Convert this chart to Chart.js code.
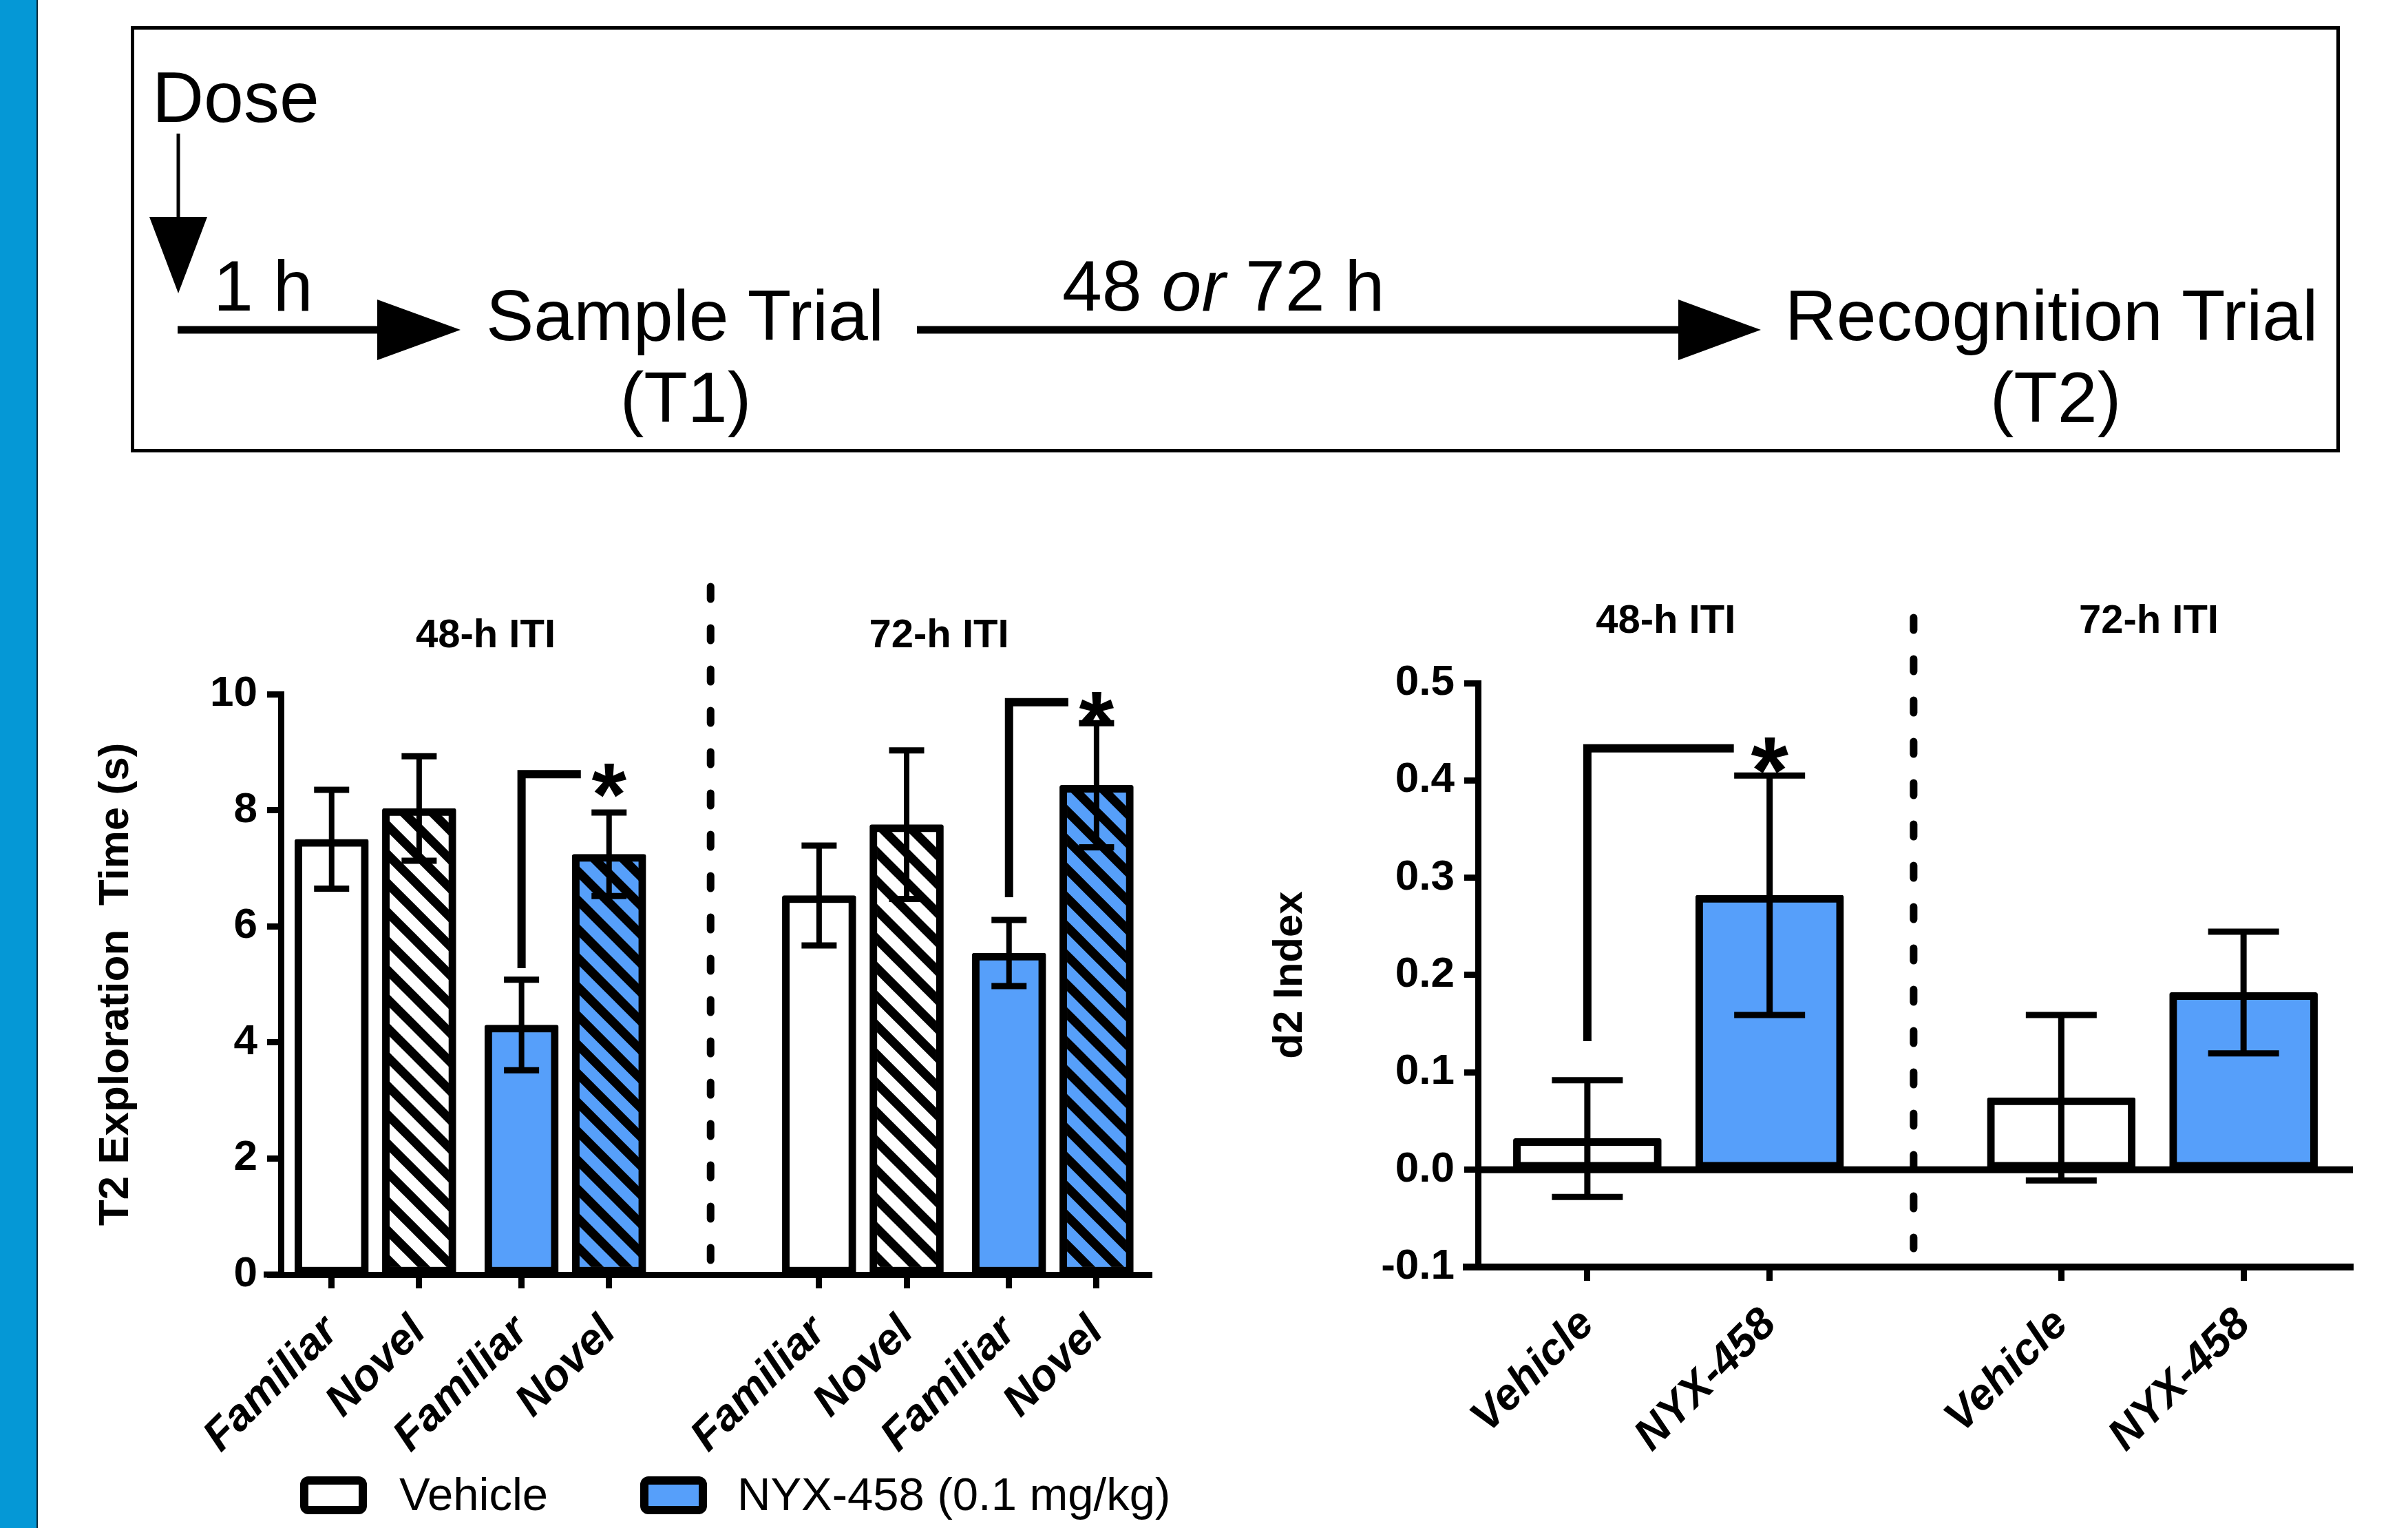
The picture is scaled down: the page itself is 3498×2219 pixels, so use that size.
<!DOCTYPE html>
<html>
<head>
<meta charset="utf-8">
<script src="https://cdn.jsdelivr.net/npm/chart.js@4.4.1/dist/chart.umd.min.js"></script>
<style>
  html, body { margin: 0; padding: 0; background: #fff; }
  body { width: 3498px; height: 2219px; position: relative; overflow: hidden; font-family: 'Liberation Sans', Arial, sans-serif; }
  #strip { position: absolute; left: 0; top: 0; width: 53px; height: 2219px; background: #0598d6; border-right: 2px solid #0b2a3a; }
  #overlay { position: absolute; left: 0; top: 0; }
  .panel { position: absolute; }
</style>
</head>
<body>
<div id="strip"></div>

<svg id="overlay" width="3498" height="2219" xmlns="http://www.w3.org/2000/svg">
  <!-- protocol box -->
  <rect x="192.5" y="40.5" width="3204" height="614" fill="none" stroke="#000" stroke-width="5"/>
  <g fill="#000" stroke="none">
    <polygon points="217,315 301,315 259,426"/>
    <polygon points="548,435 548,523 669,479"/>
    <polygon points="2438,435 2438,523 2558,479"/>
  </g>
  <g stroke="#000">
    <line x1="259" y1="194" x2="259" y2="318" stroke-width="5"/>
    <line x1="258" y1="479" x2="552" y2="479" stroke-width="11"/>
    <line x1="1332" y1="479" x2="2442" y2="479" stroke-width="11"/>
  </g>
  <g font-family="Liberation Sans, Arial, sans-serif" font-size="104" fill="#000">
    <text x="221" y="177">Dose</text>
    <text x="310" y="451">1 h</text>
    <text x="995" y="494" text-anchor="middle">Sample Trial</text>
    <text x="996" y="613" text-anchor="middle">(T1)</text>
    <text x="1543" y="451">48 <tspan font-style="italic">or</tspan> 72 h</text>
    <text x="2980" y="494" text-anchor="middle">Recognition Trial</text>
    <text x="2986" y="613" text-anchor="middle">(T2)</text>
  </g>
  <!-- legend -->
  <rect x="442" y="2150" width="85" height="43" rx="6" fill="#fff" stroke="#000" stroke-width="12"/>
  <rect x="936" y="2150" width="85" height="43" rx="6" fill="#569ffa" stroke="#000" stroke-width="12"/>
  <g font-family="Liberation Sans, Arial, sans-serif" font-size="67" fill="#000">
    <text x="580" y="2193">Vehicle</text>
    <text x="1071" y="2193">NYX-458 (0.1 mg/kg)</text>
  </g>
</svg>

<div class="panel" style="left:60px;top:780px;"><canvas id="explorationChart" width="1700" height="1439"></canvas></div>
<div class="panel" style="left:1760px;top:780px;"><canvas id="d2Chart" width="1738" height="1439"></canvas></div>

<script>
// ---------- data ----------
const groupNames = ['48-h ITI', '72-h ITI'];

// T2 exploration time (s), 8 bars
const explorationLabels = ['Familiar', 'Novel', 'Familiar', 'Novel', 'Familiar', 'Novel', 'Familiar', 'Novel'];
const explorationTreatment = ['Vehicle', 'Vehicle', 'NYX-458', 'NYX-458', 'Vehicle', 'Vehicle', 'NYX-458', 'NYX-458'];
const explorationMean = [7.5, 8.03, 4.3, 7.24, 6.53, 7.75, 5.54, 8.43];
const explorationSem = [0.85, 0.9, 0.78, 0.72, 0.86, 1.28, 0.57, 1.07];
const explorationTicks = [0, 2, 4, 6, 8, 10];

// d2 index, 4 bars
const d2Labels = ['Vehicle', 'NYX-458', 'Vehicle', 'NYX-458'];
const d2Treatment = ['Vehicle', 'NYX-458', 'Vehicle', 'NYX-458'];
const d2Mean = [0.032, 0.282, 0.074, 0.182];
const d2Sem = [0.06, 0.123, 0.085, 0.0625];
const d2Ticks = [-0.1, 0.0, 0.1, 0.2, 0.3, 0.4, 0.5];

// significance brackets (bar index from -> bar index with star), heights in data units
const explorationSigFrom = [2, 6];
const explorationSigTo = [3, 7];
const explorationSigLow = [5.28, 6.5];
const explorationSigHigh = [8.62, 9.86];
const d2SigFrom = [0];
const d2SigTo = [1];
const d2SigLow = [0.132];
const d2SigHigh = [0.433];

// ---------- layout (x slot positions on a linear axis) ----------
const explorationSlots = [0, 1, 2.17, 3.17, 5.57, 6.57, 7.74, 8.74];
const d2Slots = [0, 1, 2.6, 3.6];

const FONT = "'Liberation Sans', Arial, sans-serif";
const BLUE = '#569ffa';

Chart.defaults.font.family = FONT;
Chart.defaults.color = '#000';

function makeHatch(fill) {
    const tile = document.createElement('canvas');
    tile.width = tile.height = 42;
    const c = tile.getContext('2d');
    c.fillStyle = fill;
    c.fillRect(0, 0, 42, 42);
    c.strokeStyle = '#000';
    c.lineWidth = 13;
    for (let k = -1; k <= 1; k++) {
        c.beginPath();
        c.moveTo(-10, -10 + k * 42);
        c.lineTo(52, 52 + k * 42);
        c.stroke();
    }
    return c.createPattern(tile, 'repeat');
}

const hatchWhite = makeHatch('#fff');
const hatchBlue = makeHatch(BLUE);

// draws error bars, brackets, separators and group titles
function figurePlugin(cfg) {
    return {
        id: 'figure_' + cfg.name,
        beforeDatasetsDraw(chart) {
            const {ctx, chartArea, scales: {x, y}} = chart;
            ctx.save();
            // dashed separator between the two ITI groups
            const sx = x.getPixelForValue(cfg.sepX);
            ctx.strokeStyle = '#000';
            ctx.lineWidth = 11;
            ctx.lineCap = 'round';
            ctx.setLineDash([18, 42]);
            ctx.beginPath();
            ctx.moveTo(sx, chartArea.top - cfg.sepAbove);
            ctx.lineTo(sx, chartArea.bottom - cfg.sepBelow);
            ctx.stroke();
            ctx.setLineDash([]);
            ctx.lineCap = 'butt';
            // zero line
            if (cfg.zeroLine) {
                const zy = y.getPixelForValue(0);
                ctx.lineWidth = 10;
                ctx.beginPath();
                ctx.moveTo(chartArea.left, zy);
                ctx.lineTo(chartArea.right, zy);
                ctx.stroke();
            }
            // axis stub left of y axis
            ctx.lineWidth = cfg.axisWidth;
            ctx.beginPath();
            ctx.moveTo(chartArea.left - cfg.stub, chartArea.bottom);
            ctx.lineTo(chartArea.left, chartArea.bottom);
            ctx.stroke();
            // group titles
            ctx.fillStyle = '#000';
            ctx.font = 'bold 58px ' + FONT;
            ctx.textAlign = 'center';
            ctx.textBaseline = 'middle';
            groupNames.forEach((t, i) => {
                ctx.fillText(t, x.getPixelForValue(cfg.titleX[i]), chartArea.top - cfg.titleAbove);
            });
            ctx.restore();
        },
        afterDatasetsDraw(chart) {
            const {ctx, scales: {x, y}} = chart;
            const bars = chart.getDatasetMeta(0).data;
            ctx.save();
            ctx.strokeStyle = '#000';
            ctx.fillStyle = '#000';
            // error bars (mean +/- SEM)
            bars.forEach((bar, i) => {
                const top = y.getPixelForValue(cfg.mean[i] + cfg.sem[i]);
                const bot = y.getPixelForValue(cfg.mean[i] - cfg.sem[i]);
                ctx.lineWidth = cfg.errWidth;
                ctx.beginPath();
                ctx.moveTo(bar.x, top);
                ctx.lineTo(bar.x, bot);
                ctx.stroke();
                ctx.lineWidth = 9;
                [top, bot].forEach(py => {
                    ctx.beginPath();
                    ctx.moveTo(bar.x - cfg.capWidth / 2, py);
                    ctx.lineTo(bar.x + cfg.capWidth / 2, py);
                    ctx.stroke();
                });
            });
            // significance brackets
            ctx.lineWidth = 12;
            ctx.lineJoin = 'miter';
            cfg.sigFrom.forEach((from, k) => {
                const x0 = bars[from].x;
                const starX = bars[cfg.sigTo[k]].x;
                const yLow = y.getPixelForValue(cfg.sigLow[k]);
                const yHigh = y.getPixelForValue(cfg.sigHigh[k]);
                ctx.beginPath();
                ctx.moveTo(x0, yLow);
                ctx.lineTo(x0, yHigh);
                ctx.lineTo(starX - cfg.starGap, yHigh);
                ctx.stroke();
                ctx.font = 'bold ' + cfg.starSize + 'px ' + FONT;
                ctx.textAlign = 'center';
                ctx.textBaseline = 'alphabetic';
                ctx.fillText('*', starX, yHigh + cfg.starSize * 0.575);
            });
            ctx.restore();
        }
    };
}

function axisOptions(o) {
    return {
        x: {
            type: 'linear',
            min: o.xMin,
            max: o.xMax,
            offset: false,
            afterBuildTicks: axis => { axis.ticks = o.slots.map(v => ({value: v})); },
            afterFit: scale => { scale.height = o.xHeight; },
            border: {display: true, color: '#000', width: o.axisWidth},
            grid: {display: true, offset: false, drawOnChartArea: false, drawTicks: true, tickLength: 20, tickWidth: 9, tickColor: '#000'},
            ticks: {
                autoSkip: false,
                minRotation: 45,
                maxRotation: 45,
                padding: 26,
                color: '#000',
                font: {size: 64, weight: 'bold', style: 'italic'},
                callback: (v, i) => o.labels[i]
            }
        },
        y: {
            min: o.yMin,
            max: o.yMax,
            afterBuildTicks: axis => { axis.ticks = o.yTicks.map(v => ({value: v})); },
            afterFit: scale => { scale.width = o.yWidth; },
            border: {display: true, color: '#000', width: 9},
            grid: {display: true, drawOnChartArea: false, drawTicks: true, tickLength: 20, tickWidth: 9, tickColor: '#000'},
            ticks: {
                padding: 14,
                color: '#000',
                font: {size: 62, weight: 'bold'},
                callback: o.yFormat
            },
            title: {
                display: true,
                text: o.yTitle,
                color: '#000',
                font: {size: o.titleSize, weight: 'bold'},
                padding: {top: o.titlePad, bottom: 0}
            }
        }
    };
}

// ---------- left chart: exploration time ----------
new Chart(document.getElementById('explorationChart'), {
    type: 'bar',
    data: {
        datasets: [{
            label: 'T2 Exploration Time',
            data: explorationMean.map((v, i) => ({x: explorationSlots[i], y: v})),
            backgroundColor: explorationLabels.map((lab, i) => {
                const nyx = explorationTreatment[i] !== 'Vehicle';
                if (lab === 'Novel') return nyx ? hatchBlue : hatchWhite;
                return nyx ? BLUE : '#fff';
            }),
            borderColor: '#000',
            borderWidth: 11,
            borderSkipped: false,
            borderRadius: 3,
            barThickness: 107
        }]
    },
    options: {
        responsive: false,
        animation: false,
        events: [],
        layout: {padding: {top: 228, right: 87, left: 0, bottom: 0}},
        plugins: {legend: {display: false}, tooltip: {enabled: false}},
        scales: axisOptions({
            xMin: -0.58, xMax: 9.37, slots: explorationSlots, labels: explorationLabels,
            xHeight: 368, axisWidth: 9,
            yMin: 0, yMax: 10, yTicks: explorationTicks, yWidth: 348,
            yFormat: v => String(v), yTitle: 'T2 Exploration  Time (s)', titlePad: 72, titleSize: 62
        })
    },
    plugins: [figurePlugin({
        name: 'exploration',
        mean: explorationMean, sem: explorationSem,
        sigFrom: explorationSigFrom, sigTo: explorationSigTo,
        sigLow: explorationSigLow, sigHigh: explorationSigHigh,
        sepX: 4.33, sepAbove: 156, sepBelow: 21,
        titleX: [1.76, 6.94], titleAbove: 84,
        zeroLine: false, stub: 25, axisWidth: 9,
        errWidth: 8, capWidth: 51, starGap: 41, starSize: 130
    })]
});

// ---------- right chart: d2 index ----------
new Chart(document.getElementById('d2Chart'), {
    type: 'bar',
    data: {
        datasets: [{
            label: 'd2 Index',
            data: d2Mean.map((v, i) => ({x: d2Slots[i], y: v})),
            backgroundColor: d2Treatment.map(t => t === 'Vehicle' ? '#fff' : BLUE),
            borderColor: '#000',
            borderWidth: 11,
            borderSkipped: false,
            borderRadius: 3,
            barThickness: 215
        }]
    },
    options: {
        responsive: false,
        animation: false,
        events: [],
        layout: {padding: {top: 212, right: 80, left: 0, bottom: 0}},
        plugins: {legend: {display: false}, tooltip: {enabled: false}},
        scales: axisOptions({
            xMin: -0.6, xMax: 4.2, slots: d2Slots, labels: d2Labels,
            xHeight: 379, axisWidth: 10,
            yMin: -0.1, yMax: 0.5, yTicks: d2Ticks, yWidth: 387,
            yFormat: v => v.toFixed(1), yTitle: 'd2 Index', titlePad: 78, titleSize: 60
        })
    },
    plugins: [figurePlugin({
        name: 'd2',
        mean: d2Mean, sem: d2Sem,
        sigFrom: d2SigFrom, sigTo: d2SigTo,
        sigLow: d2SigLow, sigHigh: d2SigHigh,
        sepX: 1.79, sepAbove: 95, sepBelow: 27,
        titleX: [0.43, 3.08], titleAbove: 89,
        zeroLine: true, stub: 22, axisWidth: 10,
        errWidth: 9, capWidth: 103, starGap: 52, starSize: 140
    })]
});
</script>
</body>
</html>
